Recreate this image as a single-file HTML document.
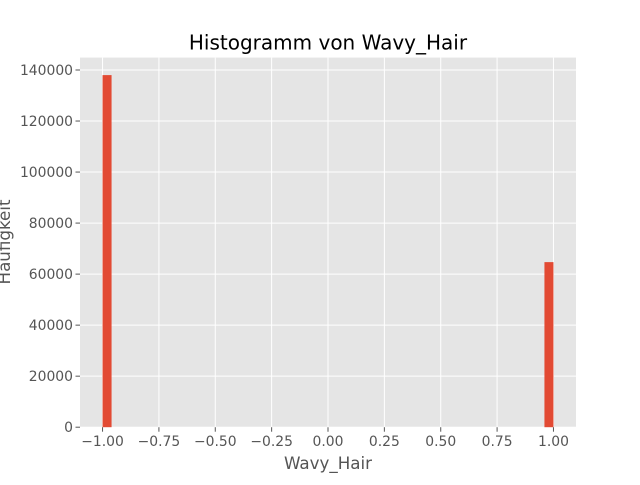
<!DOCTYPE html>
<html><head><meta charset="utf-8"><style>
body{margin:0;background:#fff;}
svg text{font-family:"DejaVu Sans","Liberation Sans",sans-serif;}
</style></head><body>
<svg width="640" height="480" xmlns="http://www.w3.org/2000/svg">
<rect width="640" height="480" fill="#fff"/>
<rect x="80" y="57.6" width="496" height="369.6" fill="#E5E5E5"/>
<g id="grid"></g><g id="bars"></g><g id="axes"></g>
<text x="328" y="49.5" text-anchor="middle" font-size="20" fill="#000">Histogramm von Wavy_Hair</text>
<text x="328" y="469" text-anchor="middle" font-size="16.7" fill="#555">Wavy_Hair</text>
<text transform="translate(10,242) rotate(-90)" text-anchor="middle" font-size="16.7" fill="#555">Häufigkeit</text>
</svg>
<script>
const binStarts=[-1.0,0.96];
const counts=[138000,64700];
const binWidth=0.04;
const xTicks=[-1,-0.75,-0.5,-0.25,0,0.25,0.5,0.75,1];
const xTickLabels=["−1.00","−0.75","−0.50","−0.25","0.00","0.25","0.50","0.75","1.00"];
const yTicks=[0,20000,40000,60000,80000,100000,120000,140000];
const L=80,R=576,T=57.6,B=427.2,xMin=-1.1,xMax=1.1,yMax=144860;
const X=v=>L+(v-xMin)/(xMax-xMin)*(R-L);
const Y=v=>B-v/yMax*(B-T);
const NS="http://www.w3.org/2000/svg";
function mk(tag,attrs,parent){const e=document.createElementNS(NS,tag);for(const k in attrs)e.setAttribute(k,attrs[k]);document.getElementById(parent).appendChild(e);return e;}
xTicks.forEach((t,i)=>{
 const g=mk('line',{x1:X(t),x2:X(t),y1:T,y2:B,stroke:'#fff','stroke-width':1},'grid');
 
 
 const tk=mk('line',{x1:X(t),x2:X(t),y1:B,y2:B+4.5,stroke:'#555','stroke-width':1},'axes');
 
 
 const tx=mk('text',{x:X(t),y:B+19,'text-anchor':'middle','font-size':'13.9',fill:'#555'},'axes');
 tx.textContent=xTickLabels[i];
 
 
});
yTicks.forEach(t=>{
 const g=mk('line',{x1:L,x2:R,y1:Y(t),y2:Y(t),stroke:'#fff','stroke-width':1},'grid');
 
 
 const tk=mk('line',{x1:L-4.5,x2:L,y1:Y(t),y2:Y(t),stroke:'#555','stroke-width':1},'axes');
 
 
 const tx=mk('text',{x:L-7,y:Y(t)+5,'text-anchor':'end','font-size':'13.9',fill:'#555'},'axes');
 tx.textContent=String(t);
 
 
});
binStarts.forEach((s,i)=>{
 const r=mk('rect',{x:X(s),y:Y(counts[i]),width:X(s+binWidth)-X(s),height:B-Y(counts[i]),fill:'#E24A33'},'bars');
 
 
});
</script>
</body></html>
